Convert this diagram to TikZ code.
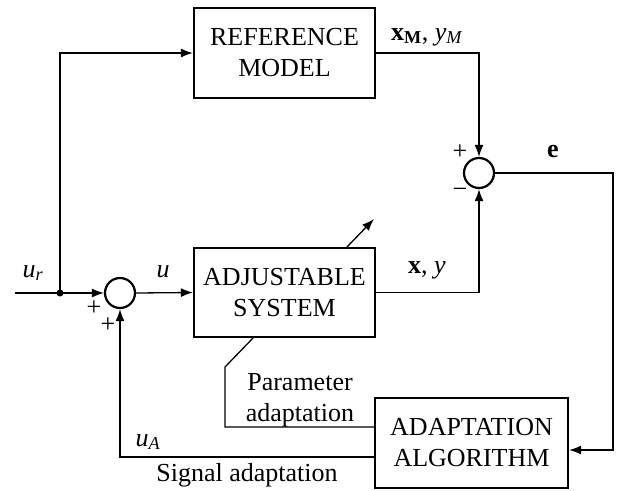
\documentclass[tikz,border=0pt]{standalone}
\usepackage{fontspec}
\setmainfont{Liberation Serif}
\usetikzlibrary{arrows.meta}
\begin{document}
\begin{tikzpicture}[x=1pt,y=-1pt,
  font=\fontsize{26}{31}\selectfont,
  blockbox/.style={draw,line width=2.2pt,inner sep=0pt,align=center},
  sumnode/.style={draw,circle,line width=2.2pt,minimum size=30pt,inner sep=0pt},
  conn/.style={line width=1.3pt},
  arr/.style={conn,-{Latex[length=12pt,width=9pt]}},
  lbl/.style={inner sep=0pt}]
\useasboundingbox (0,0) rectangle (618,490);
% blocks
\node[blockbox,minimum width=181pt,minimum height=90pt] (ref) at (284.5,53) {REFERENCE\\MODEL};
\node[blockbox,minimum width=181pt,minimum height=89pt] (adj) at (284.5,292.5) {ADJUSTABLE\\SYSTEM};
\node[blockbox,minimum width=193pt,minimum height=90pt] (adapt) at (471.5,443) {ADAPTATION\\ALGORITHM};
\node[sumnode] (s1) at (120,293) {};
\node[sumnode] (s2) at (479,173) {};
\node[circle,fill,minimum size=7pt,inner sep=0pt] (j) at (60,293) {};
% coordinates
\coordinate (in) at (15,293);
\coordinate (ec) at (613,450);
\coordinate (p0) at (254,337);
\coordinate (p1) at (225,367);
\coordinate (p2) at (375,427);
\coordinate (sa) at (375,457);
\coordinate (t0) at (346,248);
\coordinate (t1) at (374,219);
% connectors
\draw[arr] (in) -- (s1.west);
\draw[arr] (j.center) |- (ref.west);
\draw[arr] (s1.east) -- (adj.west);
\draw[arr] (ref.east) -| (s2.north);
\draw[arr] (adj.east) -| (s2.south);
\draw[arr] (s2.east) -| (ec) -- (adapt.east |- ec);
\draw[conn] (p0) -- (p1) -- (p1 |- p2) -- (p2);
\draw[arr] (sa) -| (s1.south);
\draw[arr] (t0) -- (t1);
% labels
\node[lbl] (lur) at (33,273) {\textit{u}\textsubscript{\textit{r}}};
\node[lbl] (lu) at (163,272) {\textit{u}};
\node[lbl] (lp1) at (94,308) {+};
\node[lbl] (lp2) at (108,325) {+};
\node[lbl] (lxm) at (427,37) {\textbf{x}\textsubscript{\textbf{M}}, \textit{y}\textsubscript{\textit{M}}};
\node[lbl] (lxy) at (427,270) {\textbf{x}, \textit{y}};
\node[lbl] (lp3) at (460,152) {+};
\node[lbl] (lm) at (460,193) {\textminus};
\node[lbl] (le) at (553,152) {\textbf{e}};
\node[lbl,align=center] (lpa) at (300,400) {Parameter\\adaptation};
\node[lbl] (lua) at (148,442) {\textit{u}\textsubscript{\textit{A}}};
\node[lbl] (lsa) at (247,475) {Signal adaptation};
\end{tikzpicture}
\end{document}
